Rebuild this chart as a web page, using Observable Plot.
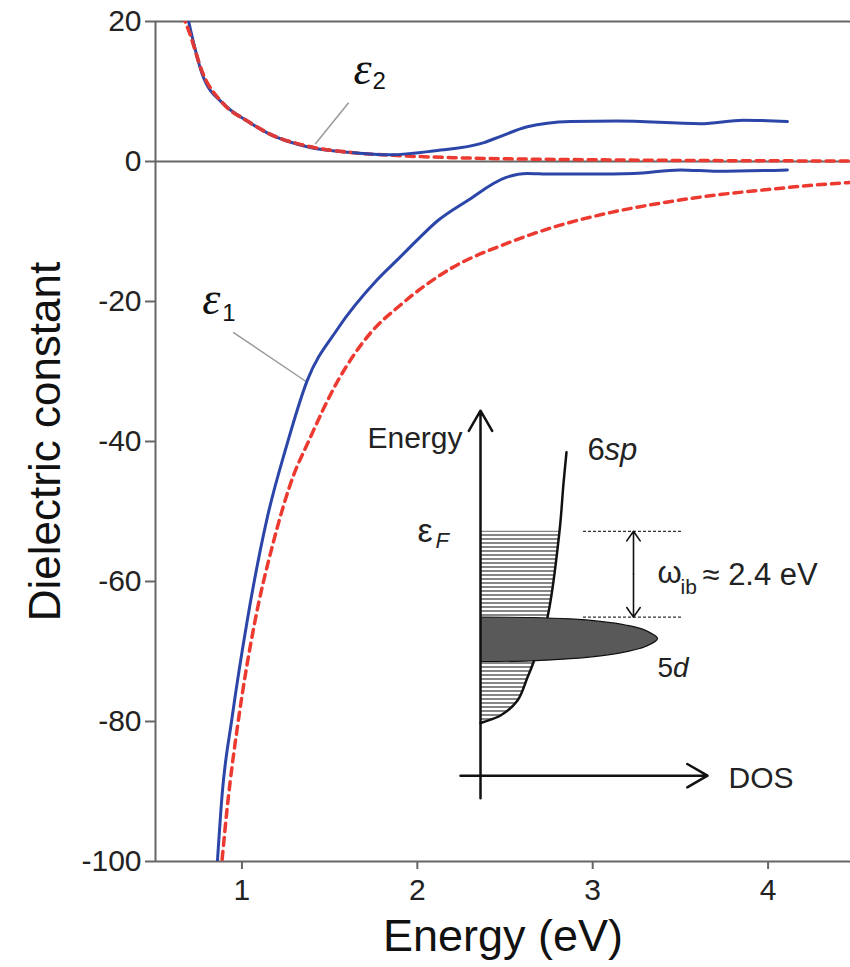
<!DOCTYPE html>
<html><head><meta charset="utf-8">
<script src="https://cdn.jsdelivr.net/npm/d3@7"></script>
<script src="https://cdn.jsdelivr.net/npm/@observablehq/plot@0.6"></script>
<style>
body{margin:0;background:#fff}
#wrap{position:relative;width:850px;height:967px;overflow:hidden}
#inset{position:absolute;left:340px;top:402px}
</style>
</head><body>
<svg width="0" height="0" style="position:absolute">
<defs>
<pattern id="hatch" patternUnits="userSpaceOnUse" width="8" height="4">
<rect width="8" height="4" fill="#fff"/>
<line x1="0" x2="8" y1="1" y2="1" stroke="#444" stroke-width="1.3"/>
</pattern>
</defs>
</svg>
<div id="wrap"><div id="main"></div><div id="inset"></div></div>
<script>
// ---------- main chart data ----------
const xTicks = [1, 2, 3, 4];
const yTicks = [-100, -80, -60, -40, -20, 0, 20];

// ε1 experimental (blue solid)
const energyE1Exp = [0.86,0.887,0.944,1.03,1.144,1.25,1.372,1.543,1.771,1.90,2.0,2.114,2.285,2.503,2.627,2.76,3.0,3.235,3.5,3.71,4.11];
const eps1Exp     = [-100,-90.4,-79.4,-65.6,-50.9,-41.0,-31.3,-24.0,-16.9,-13.7,-11.2,-8.5,-5.6,-2.3,-1.7,-1.8,-1.8,-1.7,-1.2,-1.4,-1.2];
// ε1 Drude (red dashed)
const energyE1Drude = [0.887,0.916,0.982,1.067,1.181,1.296,1.372,1.543,1.733,1.904,2.19,2.5,2.8,3.1,3.4,3.7,4.0,4.25,4.47];
const eps1Drude     = [-99.7,-92.3,-79.4,-66.6,-54.2,-44.7,-40.4,-31.5,-24.5,-20.5,-15.3,-11.8,-9.2,-7.3,-5.9,-4.8,-4.0,-3.4,-3.0];
// ε2 experimental (blue solid)
const energyE2Exp = [0.696,0.773,0.896,1.03,1.144,1.39,1.62,1.847,2.09,2.38,2.475,2.627,2.874,3.14,3.615,3.86,4.11];
const eps2Exp     = [20,12.5,8.2,5.8,4.1,2.0,1.3,0.96,1.5,2.7,3.6,4.96,5.7,5.8,5.4,5.9,5.7];
// ε2 Drude (red dashed)
const energyE2Drude = [0.66,0.70,0.773,0.896,1.03,1.144,1.39,1.62,1.923,2.2,2.6,3.0,3.5,4.0,4.47];
const eps2Drude     = [21,18.5,12.8,8.2,5.8,4.1,2.1,1.3,0.8,0.55,0.35,0.25,0.15,0.1,0.07];

// leader lines for the ε labels
const leaderX1 = [1.608, 0.95];
const leaderY1 = [8.4, -24.4];
const leaderX2 = [1.418, 1.37];
const leaderY2 = [2.5, -31.5];
// ε labels
const epsLabelE = [1.636, 0.773];
const epsLabelV = [13.2, -19.7];
const subLabels = ["2", "1"];
const subLabelE = [1.744, 0.887];
const subLabelV = [11.5, -21.7];

const zipXY = (xs, ys) => xs.map((x, i) => ({x, y: ys[i]}));
const e1Exp = zipXY(energyE1Exp, eps1Exp);
const e1Dru = zipXY(energyE1Drude, eps1Drude);
const e2Exp = zipXY(energyE2Exp, eps2Exp);
const e2Dru = zipXY(energyE2Drude, eps2Drude);
const leaders = leaderX1.map((d, i) => ({x1: d, y1: leaderY1[i], x2: leaderX2[i], y2: leaderY2[i]}));
const epsLabels = epsLabelE.map((d, i) => ({x: d, y: epsLabelV[i]}));
const subs = subLabels.map((t, i) => ({t, x: subLabelE[i], y: subLabelV[i]}));

const blue = "#2b46a8", red = "#ec3a30", frameCol = "#666";
const sans = "'Liberation Sans', Arial, Helvetica, sans-serif";
const dash = {stroke: red, strokeWidth: 3.5, strokeDasharray: "8,6", curve: "monotone-x", clip: true};
const solid = {stroke: blue, strokeWidth: 3, curve: "monotone-x", clip: true};

const main = Plot.plot({
  width: 850, height: 967,
  marginLeft: 155, marginRight: 0, marginTop: 21, marginBottom: 106,
  style: {fontFamily: sans, background: "#fff", color: "#222"},
  x: {domain: [0.507, 4.47]},
  y: {domain: [-100, 20]},
  marks: [
    Plot.ruleY([20, 0, -100], {stroke: frameCol, strokeWidth: 2}),
    Plot.ruleX([0.507], {stroke: frameCol, strokeWidth: 2}),
    Plot.axisX({ticks: xTicks, tickFormat: d => String(d), tickSize: 8, tickPadding: 9, fontSize: 30, stroke: frameCol, strokeWidth: 2, fill: "#222", label: null}),
    Plot.axisY({ticks: yTicks, tickFormat: d => String(d), tickSize: 10, tickPadding: 4, fontSize: 30, stroke: frameCol, strokeWidth: 2, fill: "#222", label: null}),
    Plot.link(leaders, {x1: "x1", y1: "y1", x2: "x2", y2: "y2", stroke: "#999", strokeWidth: 1.5}),
    Plot.line(e1Dru, {x: "x", y: "y", ...dash}),
    Plot.line(e2Dru, {x: "x", y: "y", ...dash}),
    Plot.line(e1Exp, {x: "x", y: "y", ...solid}),
    Plot.line(e2Exp, {x: "x", y: "y", ...solid}),
    Plot.line(e2Dru.filter(d => d.x < 1.8), {x: "x", y: "y", ...dash, strokeOpacity: 0.9}),
    Plot.text(epsLabels, {x: "x", y: "y", text: () => "ε", textAnchor: "start", fontSize: 46, fontStyle: "italic", fontFamily: "'Liberation Serif', 'Times New Roman', serif", fill: "#111"}),
    Plot.text(subs, {x: "x", y: "y", text: "t", textAnchor: "start", fontSize: 24, fill: "#111"}),
    Plot.text(["Energy (eV)"], {text: d => d, frameAnchor: "bottom", textAnchor: "middle", lineAnchor: "middle", dy: 75, fontSize: 45, fill: "#111"}),
    Plot.text(["Dielectric constant"], {text: d => d, frameAnchor: "left", textAnchor: "middle", lineAnchor: "middle", dx: -110, rotate: -90, fontSize: 44, fill: "#111"})
  ]
});
document.getElementById("main").append(main);

// ---------- inset (DOS schematic) data ----------
// DOS axis in arbitrary units, energy in eV relative to the Fermi level
const sp6Dos    = [0.0, 0.03, 0.20, 0.37, 0.47, 0.53, 0.67, 0.79, 0.83, 0.86];
const sp6Energy = [-5.36, -5.33, -5.15, -4.73, -4.08, -3.66, -2.40, 0.0, 1.34, 2.21];
const d5Dos     = [0.0, 0.5, 0.9, 1.2, 1.45, 1.65, 1.77, 1.65, 1.45, 1.2, 0.9, 0.5, 0.0];
const d5Energy  = [-2.40, -2.41, -2.45, -2.52, -2.62, -2.77, -3.0, -3.22, -3.37, -3.48, -3.56, -3.62, -3.64];
const fermiLevel = 0;
const interbandGap = 2.4;

const sp6 = zipXY(sp6Dos, sp6Energy);
const sp6Filled = sp6.filter(d => d.y <= fermiLevel);
const d5 = zipXY(d5Dos, d5Energy);

const ink = "#111";
const inset = Plot.plot({
  width: 500, height: 415,
  marginLeft: 0, marginRight: 0, marginTop: 0, marginBottom: 0,
  style: {fontFamily: sans, background: "transparent", overflow: "visible"},
  x: {domain: [-1.4, 3.6], axis: null},
  y: {domain: [-8, 3.6], axis: null},
  marks: [
    Plot.areaX(sp6Filled, {y: "y", x1: 0, x2: "x", fill: "url(#hatch)", curve: "catmull-rom"}),
    Plot.line(sp6, {x: "x", y: "y", stroke: ink, strokeWidth: 2.5, curve: "catmull-rom"}),
    Plot.line(d5, {x: "x", y: "y", fill: "#595959", stroke: ink, strokeWidth: 1.2, curve: "catmull-rom"}),
    Plot.ruleY([fermiLevel, -interbandGap], {x1: 1.03, x2: 2.02, stroke: "#333", strokeWidth: 1.3, strokeDasharray: "3,2"}),
    Plot.arrow([fermiLevel, -interbandGap], {x1: 1.53, x2: 1.53, y1: -interbandGap / 2, y2: d => d, stroke: ink, strokeWidth: 1.6, headLength: 11, headAngle: 70}),
    Plot.arrow([0], {x1: 0, x2: 0, y1: -7.46, y2: 3.37, stroke: ink, strokeWidth: 2.5, headLength: 14, headAngle: 60}),
    Plot.arrow([0], {x1: -0.2, x2: 2.27, y1: -6.83, y2: -6.83, stroke: ink, strokeWidth: 2.5, headLength: 14, headAngle: 60}),
    Plot.text(["Energy"], {text: d => d, x: -0.18, y: 2.60, textAnchor: "end", fontSize: 30, fill: "#222"}),
    Plot.text(["6"], {text: d => d, x: 1.07, y: 2.26, textAnchor: "start", fontSize: 31, fill: "#222"}),
    Plot.text(["sp"], {text: d => d, x: 1.24, y: 2.26, textAnchor: "start", fontSize: 31, fontStyle: "italic", fill: "#222"}),
    Plot.text(["ε"], {text: d => d, x: -0.63, y: 0.0, textAnchor: "start", fontSize: 34, fill: "#222"}),
    Plot.text(["F"], {text: d => d, x: -0.45, y: -0.28, textAnchor: "start", fontSize: 22, fontStyle: "italic", fill: "#222"}),
    Plot.text(["ω"], {text: d => d, x: 1.77, y: -1.16, textAnchor: "start", fontSize: 31, fill: "#222"}),
    Plot.text(["ib"], {text: d => d, x: 2.0, y: -1.56, textAnchor: "start", fontSize: 21, fill: "#222"}),
    Plot.text(["≈ 2.4 eV"], {text: d => d, x: 2.22, y: -1.21, textAnchor: "start", fontSize: 31, fill: "#222"}),
    Plot.text(["5"], {text: d => d, x: 1.77, y: -3.83, textAnchor: "start", fontSize: 28, fill: "#222"}),
    Plot.text(["d"], {text: d => d, x: 1.925, y: -3.83, textAnchor: "start", fontSize: 28, fontStyle: "italic", fill: "#222"}),
    Plot.text(["DOS"], {text: d => d, x: 2.48, y: -6.92, textAnchor: "start", fontSize: 30, fill: "#222"})
  ]
});
document.getElementById("inset").append(inset);
</script>
</body></html>
